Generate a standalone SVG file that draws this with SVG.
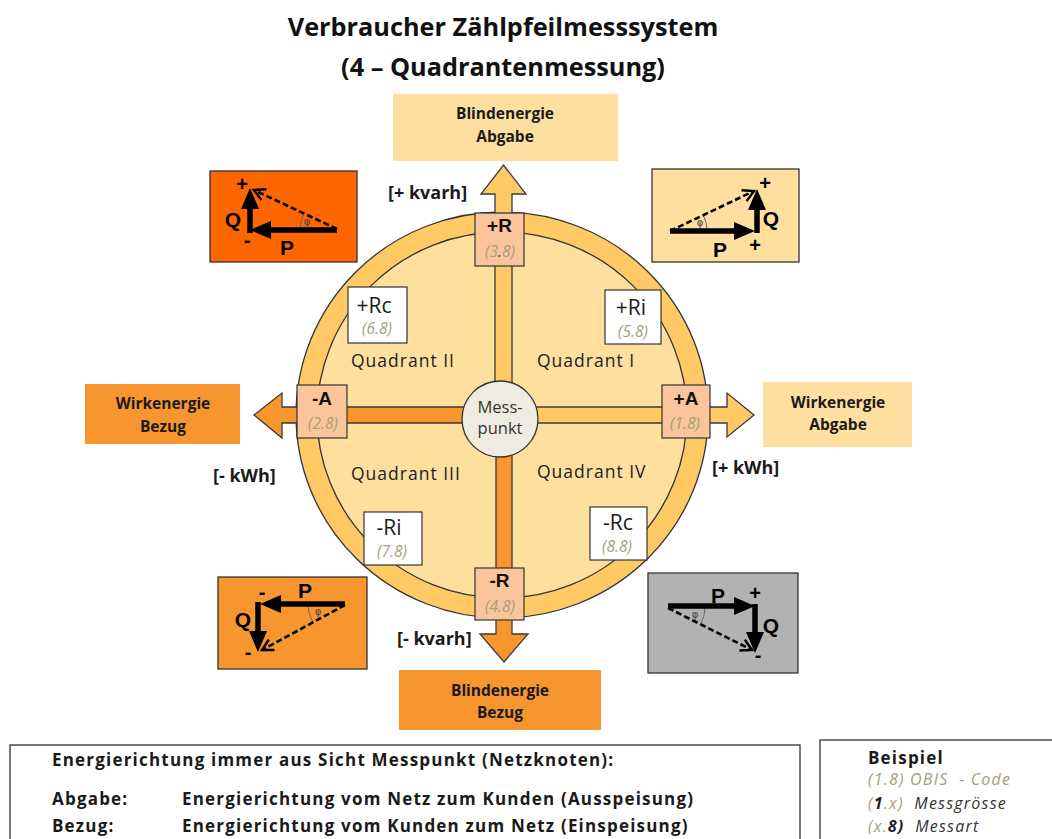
<svg xmlns="http://www.w3.org/2000/svg" width="1052" height="839" viewBox="0 0 1052 839">
<defs>
<style>
.title{font-family:"Open Sans",sans-serif;font-weight:700;font-size:25.3px;fill:#111;text-anchor:middle}
.tgt{font-family:"Open Sans",sans-serif;font-weight:700;font-size:15.5px;fill:#1a1a1a;text-anchor:middle}
.unit{font-family:"Open Sans",sans-serif;font-weight:700;font-size:18px;fill:#1a1a1a}
.lbl{font-family:"Liberation Sans",Arial,sans-serif;font-weight:700;font-size:19px;fill:#111;text-anchor:middle}
.code{font-family:"Open Sans",sans-serif;font-style:italic;font-size:15.5px;fill:#A3A07A;text-anchor:middle}
.qbox{font-family:"Open Sans",sans-serif;font-size:21px;fill:#1a1a1a;text-anchor:middle}
.quad{font-family:"Open Sans",sans-serif;font-size:17.5px;fill:#222;letter-spacing:1px}
.mp{font-family:"Open Sans",sans-serif;font-size:16.5px;fill:#333;text-anchor:middle}
.ph{font-family:"Liberation Sans",Arial,sans-serif;font-weight:700;font-size:21px;fill:#000;text-anchor:middle}
.sg{font-family:"Liberation Sans",Arial,sans-serif;font-weight:700;font-size:20px;fill:#000;text-anchor:middle}
.phi{font-family:"DejaVu Sans",sans-serif;font-size:10px;fill:#444;text-anchor:middle}
.vec{stroke:#000;stroke-width:5.5;fill:none}
.dash{stroke:#000;stroke-width:2.6;stroke-dasharray:6,3;fill:none}
.arc{stroke:#666;stroke-width:1;fill:none}
.box{stroke:#333;stroke-width:1.3}
.lbox{fill:#FAC59A;stroke:#333;stroke-width:1.2}
.wbox{fill:#fff;stroke:#333;stroke-width:1.2}
.bar{stroke:#3a3a3a;stroke-width:1.3;stroke-linejoin:miter}
.leg{font-family:"Open Sans",sans-serif;font-weight:700;font-size:17px;fill:#1a1a1a;letter-spacing:1.2px}
.legi{font-family:"Open Sans",sans-serif;font-style:italic;font-size:16px;fill:#A3A07A;letter-spacing:1.2px;white-space:pre}
.dk{fill:#222;font-weight:700}
</style>
<marker id="fh" markerUnits="userSpaceOnUse" markerWidth="24" markerHeight="20" refX="1" refY="9" orient="auto">
<path d="M0,0 L21,9 L0,18 z" fill="#000"/>
</marker>
<marker id="oh" markerUnits="userSpaceOnUse" markerWidth="16" markerHeight="16" refX="12" refY="7" orient="auto">
<path d="M1,1 L12,7 L1,13" fill="none" stroke="#000" stroke-width="2.4" stroke-dasharray="none"/>
</marker>
</defs>
<rect width="1052" height="839" fill="#fff"/>

<g id="title">
<text class="title" x="503" y="36">Verbraucher Zählpfeilmesssystem</text>
<text class="title" x="503" y="76">(4 – Quadrantenmessung)</text>
</g>

<g id="ring">
<ellipse cx="502" cy="415" rx="206" ry="203" fill="#FFC966" stroke="#333" stroke-width="1.3"/>
<ellipse cx="502" cy="415" rx="185" ry="183" fill="#FFDF9E" stroke="#333" stroke-width="1.3"/>
</g>

<g id="connectors">
<polygon class="bar" fill="#FFC966" points="495,415 495,194 481,194 503.5,165 526,194 512,194 512,415"/>
<polygon class="bar" fill="#FFC966" points="502,407 727,407 727,393 754,415 727,437 727,423 502,423"/>
<polygon class="bar" fill="#F7962F" points="502,407 282,407 282,393 254,415 282,438 282,423 502,423"/>
<polygon class="bar" fill="#F7962F" points="496,415 496,634 480,634 504,662 528,634 512,634 512,415"/>
</g>

<g id="messpunkt">
<circle cx="500" cy="419" r="38" fill="#EEECE1" stroke="#333" stroke-width="1.3"/>
<text class="mp" x="500" y="413">Mess-</text>
<text class="mp" x="500" y="434">punkt</text>
</g>

<g id="quadrants">
<text class="quad" x="351" y="367">Quadrant II</text>
<text class="quad" x="537" y="367">Quadrant I</text>
<text class="quad" x="351" y="480">Quadrant III</text>
<text class="quad" x="537" y="478">Quadrant IV</text>
</g>

<g id="node-plusR">
<rect class="lbox" x="475" y="213" width="49" height="53"/>
<text class="lbl" x="499.5" y="232">+R</text>
<text class="code" x="500" y="257">(3<tspan fill="#333">.</tspan>8)</text>
</g>
<g id="node-minusR">
<rect class="lbox" x="475" y="568" width="49" height="52"/>
<text class="lbl" x="499.5" y="587">-R</text>
<text class="code" x="500" y="612">(4.8)</text>
</g>
<g id="node-minusA">
<rect class="lbox" x="297" y="385" width="50" height="53"/>
<text class="lbl" x="322" y="405">-A</text>
<text class="code" x="323" y="429">(2.8)</text>
</g>
<g id="node-plusA">
<rect class="lbox" x="662" y="385" width="48" height="53"/>
<text class="lbl" x="686" y="405">+A</text>
<text class="code" x="685" y="429">(1.8)</text>
</g>

<g id="node-plusRc">
<rect class="wbox" x="348" y="287" width="59" height="56"/>
<text class="qbox" x="374" y="313">+Rc</text>
<text class="code" x="377" y="334" font-size="16.5">(6.8)</text>
</g>
<g id="node-plusRi">
<rect class="wbox" x="605" y="290" width="56" height="54"/>
<text class="qbox" x="631" y="315">+Ri</text>
<text class="code" x="633" y="337" font-size="16.5">(5.8)</text>
</g>
<g id="node-minusRi">
<rect class="wbox" x="364" y="512" width="58" height="53"/>
<text class="qbox" x="389" y="535">-Ri</text>
<text class="code" x="392" y="557" font-size="16.5">(7.8)</text>
</g>
<g id="node-minusRc">
<rect class="wbox" x="590" y="507" width="57" height="53"/>
<text class="qbox" x="618" y="530">-Rc</text>
<text class="code" x="617" y="552" font-size="16.5">(8.8)</text>
</g>

<g id="node-blind-abgabe">
<rect x="393" y="94" width="225" height="67" fill="#FFDF9F"/>
<text class="tgt" x="505" y="119">Blindenergie</text>
<text class="tgt" x="505" y="142">Abgabe</text>
</g>
<g id="node-blind-bezug">
<rect x="399" y="670" width="202" height="60" fill="#F7962F"/>
<text class="tgt" x="500" y="696">Blindenergie</text>
<text class="tgt" x="500" y="718">Bezug</text>
</g>
<g id="node-wirk-bezug">
<rect x="85" y="384" width="155" height="60" fill="#F7962F"/>
<text class="tgt" x="163" y="409">Wirkenergie</text>
<text class="tgt" x="163" y="432">Bezug</text>
</g>
<g id="node-wirk-abgabe">
<rect x="763" y="382" width="149" height="65" fill="#FFDF9F"/>
<text class="tgt" x="838" y="408">Wirkenergie</text>
<text class="tgt" x="838" y="430">Abgabe</text>
</g>

<g id="units">
<text class="unit" x="388" y="199">[+ kvarh]</text>
<text class="unit" x="397" y="645">[- kvarh]</text>
<text class="unit" x="213" y="482">[- kWh]</text>
<text class="unit" x="712" y="474">[+ kWh]</text>
</g>

<g id="node-phasor-q2">
<rect class="box" x="210" y="171" width="147" height="91" fill="#FF6600"/>
<path class="arc" d="M300,230 A37,37 0 0 1 303.5,214.3"/>
<line class="dash" x1="337" y1="229" x2="254" y2="190" marker-end="url(#oh)"/>
<line class="vec" x1="337" y1="230" x2="270" y2="230" marker-end="url(#fh)"/>
<line class="vec" x1="250" y1="233" x2="250" y2="208" marker-end="url(#fh)"/>
<text class="sg" x="242" y="191">+</text>
<text class="sg" x="247" y="247">-</text>
<text class="ph" x="233" y="227">Q</text>
<text class="ph" x="287" y="255">P</text>
<text class="phi" x="307" y="225">φ</text>
</g>
<g id="node-phasor-q1">
<rect class="box" x="652" y="169" width="147" height="93" fill="#FFDF9F"/>
<path class="arc" d="M707,231 A37,37 0 0 0 703.4,215.1"/>
<line class="dash" x1="670" y1="231" x2="754" y2="191" marker-end="url(#oh)"/>
<line class="vec" x1="670" y1="231" x2="735" y2="231" marker-end="url(#fh)"/>
<line class="vec" x1="757" y1="233" x2="757" y2="209" marker-end="url(#fh)"/>
<text class="sg" x="765" y="190">+</text>
<text class="sg" x="755" y="252">+</text>
<text class="ph" x="771" y="226">Q</text>
<text class="ph" x="720" y="257">P</text>
<text class="phi" x="700" y="226">φ</text>
</g>
<g id="node-phasor-q3">
<rect class="box" x="218" y="577" width="149" height="92" fill="#F7962F"/>
<path class="arc" d="M308,604 A37,37 0 0 0 312.6,621.9"/>
<line class="dash" x1="345" y1="605" x2="262" y2="650" marker-end="url(#oh)"/>
<line class="vec" x1="345" y1="604" x2="280" y2="604" marker-end="url(#fh)"/>
<line class="vec" x1="258" y1="602" x2="258" y2="632" marker-end="url(#fh)"/>
<text class="sg" x="262" y="599">-</text>
<text class="sg" x="248" y="659">-</text>
<text class="ph" x="243" y="627">Q</text>
<text class="ph" x="305" y="598">P</text>
<text class="phi" x="318" y="615">φ</text>
</g>
<g id="node-phasor-q4">
<rect class="box" x="648" y="573" width="150" height="100" fill="#B2B2B2"/>
<path class="arc" d="M705,607 A37,37 0 0 1 700.9,623.8"/>
<line class="dash" x1="668" y1="608" x2="752" y2="650" marker-end="url(#oh)"/>
<line class="vec" x1="668" y1="606" x2="735" y2="606" marker-end="url(#fh)"/>
<line class="vec" x1="755" y1="604" x2="755" y2="633" marker-end="url(#fh)"/>
<text class="sg" x="755" y="600">+</text>
<text class="sg" x="758" y="662">-</text>
<text class="ph" x="771" y="633">Q</text>
<text class="ph" x="718" y="603">P</text>
<text class="phi" x="695" y="618">φ</text>
</g>

<g id="legend">
<rect x="10" y="745" width="790" height="120" fill="#fff" stroke="#333" stroke-width="1.3"/>
<text class="leg" x="52" y="766">Energierichtung immer aus Sicht Messpunkt (Netzknoten):</text>
<text class="leg" x="52" y="805">Abgabe:</text>
<text class="leg" x="182" y="805">Energierichtung vom Netz zum Kunden (Ausspeisung)</text>
<text class="leg" x="52" y="832">Bezug:</text>
<text class="leg" x="182" y="832">Energierichtung vom Kunden zum Netz (Einspeisung)</text>
</g>
<g id="example">
<rect x="820" y="740" width="250" height="120" fill="#fff" stroke="#333" stroke-width="1.3"/>
<text class="leg" x="868" y="764" letter-spacing="0.3">Beispiel</text>
<text class="legi" x="868" y="785">(1.8) OBIS  - Code</text>
<text class="legi" x="868" y="809">(<tspan class="dk">1</tspan>.x)  <tspan fill="#333">Messgrösse</tspan></text>
<text class="legi" x="868" y="832">(x.<tspan class="dk">8)</tspan>  <tspan fill="#333">Messart</tspan></text>
</g>
</svg>
